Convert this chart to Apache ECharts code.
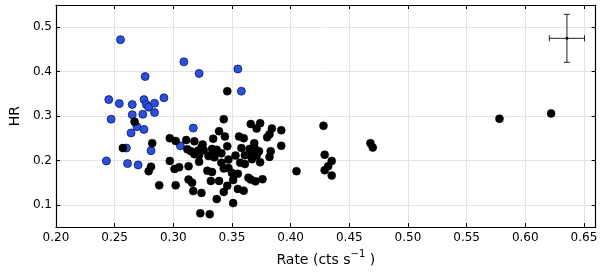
<!DOCTYPE html>
<html>
<head>
<meta charset="utf-8">
<script src="https://cdn.jsdelivr.net/npm/echarts@6/dist/echarts.min.js"></script>
<style>html,body{margin:0;padding:0;background:#fff}#c{width:600px;height:272px}</style>
</head>
<body>
<div id="c"></div>
<script>
// Tick labels
const xTicks = [0.20, 0.25, 0.30, 0.35, 0.40, 0.45, 0.50, 0.55, 0.60, 0.65];
const yTicks = [0.1, 0.2, 0.3, 0.4, 0.5];

// Black points [rate, HR]
const blackPoints = [
  [0.267,0.287],[0.257,0.228],[0.282,0.239],[0.297,0.250],[0.297,0.199],[0.281,0.186],
  [0.279,0.176],[0.288,0.144],[0.302,0.144],[0.343,0.293],[0.339,0.266],[0.344,0.254],
  [0.302,0.244],[0.311,0.246],[0.318,0.243],[0.334,0.249],[0.325,0.236],[0.324,0.229],
  [0.312,0.225],[0.315,0.221],[0.321,0.222],[0.326,0.223],[0.333,0.226],[0.337,0.224],
  [0.346,0.232],[0.318,0.214],[0.322,0.212],[0.330,0.210],[0.335,0.207],[0.341,0.216],
  [0.320,0.217],[0.322,0.197],[0.305,0.185],[0.301,0.181],[0.313,0.187],[0.329,0.177],
  [0.333,0.174],[0.341,0.195],[0.343,0.182],[0.347,0.183],[0.313,0.157],[0.316,0.150],
  [0.317,0.131],[0.324,0.127],[0.332,0.154],[0.339,0.154],[0.343,0.129],[0.337,0.113],
  [0.323,0.081],[0.331,0.079],[0.346,0.356],[0.366,0.282],[0.374,0.284],[0.371,0.272],
  [0.384,0.272],[0.392,0.268],[0.382,0.259],[0.380,0.252],[0.356,0.254],[0.360,0.250],
  [0.392,0.233],[0.369,0.239],[0.369,0.230],[0.358,0.228],[0.365,0.226],[0.373,0.221],
  [0.383,0.221],[0.335,0.217],[0.361,0.212],[0.353,0.211],[0.367,0.213],[0.371,0.211],
  [0.382,0.208],[0.347,0.202],[0.357,0.195],[0.361,0.192],[0.367,0.203],[0.374,0.196],
  [0.350,0.172],[0.355,0.170],[0.351,0.156],[0.364,0.161],[0.366,0.157],[0.370,0.153],
  [0.376,0.158],[0.346,0.143],[0.355,0.136],[0.360,0.132],[0.351,0.104],[0.405,0.176],
  [0.428,0.278],[0.429,0.213],[0.435,0.199],[0.432,0.187],[0.429,0.178],[0.435,0.166],
  [0.468,0.239],[0.470,0.229],[0.578,0.294],[0.622,0.306]
];

// Blue points [rate, HR]
const bluePoints = [
  [0.255,0.472],[0.276,0.389],[0.245,0.337],[0.254,0.328],[0.265,0.326],[0.275,0.337],
  [0.277,0.326],[0.279,0.320],[0.284,0.329],[0.292,0.341],[0.265,0.303],[0.274,0.304],
  [0.284,0.308],[0.247,0.293],[0.269,0.276],[0.275,0.270],[0.264,0.262],[0.281,0.222],
  [0.243,0.199],[0.261,0.193],[0.270,0.190],[0.260,0.228],[0.309,0.422],[0.322,0.396],
  [0.317,0.273],[0.306,0.233],[0.358,0.356],[0.355,0.406]
];

// Typical error bar [rate, HR, rateErr, hrErr]
const typicalError = [[0.6355, 0.475, 0.015, 0.054]];

const FONT = 'DejaVu Sans';
const axisCommon = {
  axisLine: { show: true, onZero: false, lineStyle: { color: '#000', width: 1.2 } },
  axisTick: { show: true, inside: true, length: 4, lineStyle: { color: '#000', width: 1 } },
  splitLine: { show: false },
  axisLabel: { show: false }
};

const chart = echarts.init(document.getElementById('c'), null, { renderer: 'canvas' });
chart.setOption({
  animation: false,
  backgroundColor: '#fff',
  grid: { left: 42, right: 4, top: 5, bottom: 36, containLabel: false },
  xAxis: [
    Object.assign({}, axisCommon, {
      type: 'value', min: 0.20, max: 0.66, position: 'bottom',
      name: '{n|Rate (cts s}{s|−1}{n| )}', nameLocation: 'middle', nameGap: 21,
      nameTextStyle: { rich: {
        n: { fontFamily: FONT, fontSize: 14, color: '#000', verticalAlign: 'bottom', lineHeight: 18 },
        s: { fontFamily: FONT, fontSize: 10, color: '#000', verticalAlign: 'top', padding: [0,0,8,0], lineHeight: 18 }
      } },
      axisTick: { show: true, inside: true, length: 4, customValues: xTicks, lineStyle: { color: '#000' } },
      axisLabel: { show: true, customValues: xTicks, fontFamily: FONT, fontSize: 12, color: '#000', margin: 5,
        formatter: v => v.toFixed(2) },
      splitLine: { show: true, lineStyle: { color: '#e4e4e4', width: 1 } }
    }),
    Object.assign({}, axisCommon, {
      type: 'value', min: 0.20, max: 0.66, position: 'top',
      axisTick: { show: true, inside: true, length: 4, customValues: xTicks, lineStyle: { color: '#000' } }
    })
  ],
  yAxis: [
    Object.assign({}, axisCommon, {
      type: 'value', min: 0.05, max: 0.55, position: 'left',
      name: 'HR', nameLocation: 'middle', nameGap: 29,
      nameTextStyle: { fontFamily: FONT, fontSize: 14, color: '#000' },
      axisTick: { show: true, inside: true, length: 4, customValues: yTicks, lineStyle: { color: '#000' } },
      axisLabel: { show: true, customValues: yTicks, fontFamily: FONT, fontSize: 12, color: '#000', margin: 4,
        formatter: v => v.toFixed(1) },
      splitLine: { show: true, lineStyle: { color: '#e4e4e4', width: 1 } }
    }),
    Object.assign({}, axisCommon, {
      type: 'value', min: 0.05, max: 0.55, position: 'right',
      axisTick: { show: true, inside: true, length: 4, customValues: yTicks, lineStyle: { color: '#000' } }
    })
  ],
  series: [
    {
      type: 'scatter', name: 'blue', data: bluePoints, symbolSize: 8,
      itemStyle: { color: '#2b4ee3', borderColor: '#0d1a5c', borderWidth: 0.8, opacity: 1 },
      z: 3
    },
    {
      type: 'scatter', name: 'black', data: blackPoints, symbolSize: 8,
      itemStyle: { color: '#000', borderColor: '#000', borderWidth: 0.5, opacity: 1 },
      z: 4
    },
    {
      type: 'custom', name: 'err', data: typicalError, z: 5,
      renderItem: function (params, api) {
        const x = api.value(0), y = api.value(1), xe = api.value(2), ye = api.value(3);
        const c = api.coord([x, y]);
        const l = api.coord([x - xe, y]), r = api.coord([x + xe, y]);
        const t = api.coord([x, y + ye]), b = api.coord([x, y - ye]);
        const st = { stroke: '#222', lineWidth: 1 };
        const cap = 3;
        return { type: 'group', children: [
          { type: 'line', shape: { x1: l[0], y1: l[1], x2: r[0], y2: r[1] }, style: st },
          { type: 'line', shape: { x1: t[0], y1: t[1], x2: b[0], y2: b[1] }, style: st },
          { type: 'line', shape: { x1: l[0], y1: l[1] - cap, x2: l[0], y2: l[1] + cap }, style: st },
          { type: 'line', shape: { x1: r[0], y1: r[1] - cap, x2: r[0], y2: r[1] + cap }, style: st },
          { type: 'line', shape: { x1: t[0] - cap, y1: t[1], x2: t[0] + cap, y2: t[1] }, style: st },
          { type: 'line', shape: { x1: b[0] - cap, y1: b[1], x2: b[0] + cap, y2: b[1] }, style: st },
          { type: 'circle', shape: { cx: c[0], cy: c[1], r: 1.5 }, style: { fill: '#000' } }
        ] };
      }
    }
  ]
});
</script>
</body>
</html>
